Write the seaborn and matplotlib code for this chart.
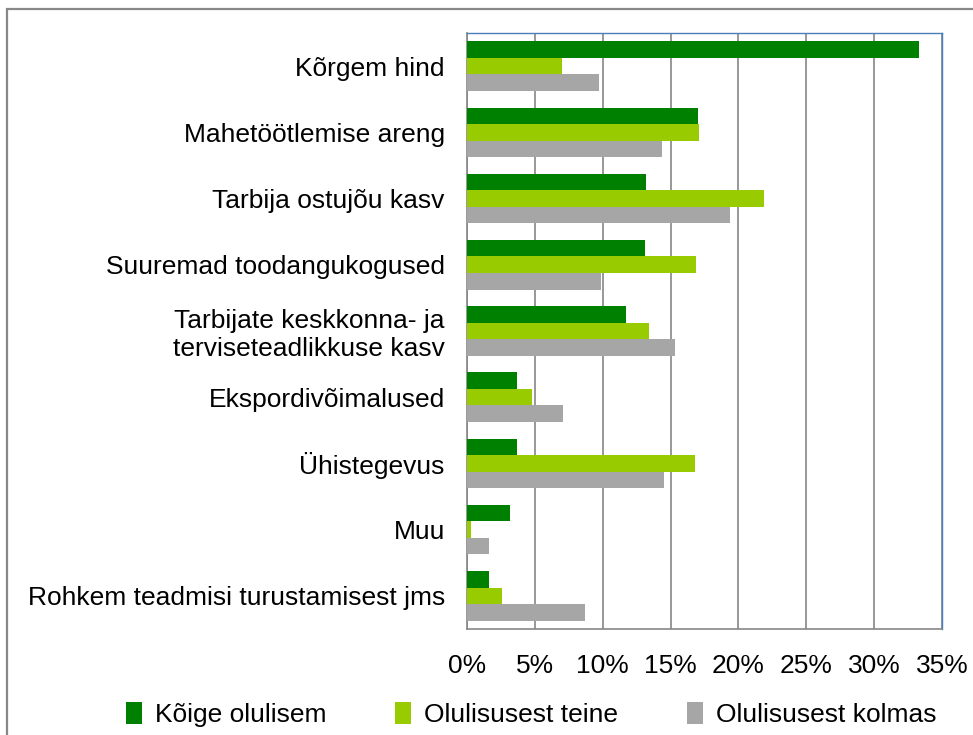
import pandas as pd
import seaborn as sns
import matplotlib.pyplot as plt
from matplotlib.patches import Rectangle
from matplotlib.ticker import FixedLocator

categories = ["Kõrgem hind", "Mahetöötlemise areng", "Tarbija ostujõu kasv",
              "Suuremad toodangukogused",
              "Tarbijate keskkonna- ja\nterviseteadlikkuse kasv",
              "Ekspordivõimalused", "Ühistegevus", "Muu",
              "Rohkem teadmisi turustamisest jms"]
series = ["Kõige olulisem", "Olulisusest teine", "Olulisusest kolmas"]
koige_olulisem = [33.3, 17.0, 13.2, 13.1, 11.7, 3.7, 3.7, 3.2, 1.6]
olulisusest_teine = [7.0, 17.1, 21.9, 16.9, 13.4, 4.8, 16.8, 0.3, 2.6]
olulisusest_kolmas = [9.7, 14.4, 19.4, 9.9, 15.3, 7.1, 14.5, 1.6, 8.7]
x_ticks = [0, 5, 10, 15, 20, 25, 30, 35]
x_labels = ["0%", "5%", "10%", "15%", "20%", "25%", "30%", "35%"]

colors = ["#008000", "#99CC00", "#A6A6A6"]

df = pd.DataFrame({
    "kategooria": categories * 3,
    "seeria": [s for s in series for _ in categories],
    "vaartus": koige_olulisem + olulisusest_teine + olulisusest_kolmas,
})

sns.set_style("white")
plt.rcParams["font.family"] = ["Liberation Sans", "DejaVu Sans"]
plt.rcParams["text.color"] = "black"
plt.rcParams["xtick.color"] = "black"
plt.rcParams["ytick.color"] = "black"

fig = plt.figure(figsize=(9.73, 7.35), dpi=100)
ax = fig.add_axes([467 / 973, 106 / 735, 475 / 973, 596 / 735])

sns.barplot(data=df, y="kategooria", x="vaartus", hue="seeria", orient="h",
            palette=colors, width=0.75, saturation=1, linewidth=0,
            edgecolor="none", ax=ax, zorder=3)

ax.set_xlim(0, 35)
ax.set_ylim(len(categories) - 0.5, -0.5)
ax.set_xticks(x_ticks)
ax.set_xticklabels(x_labels, fontsize=19)
ax.set_ylabel("")
ax.set_xlabel("")
ax.tick_params(axis="y", which="major", length=0, pad=16, labelsize=19,
               labelcolor="black")
ax.yaxis.set_minor_locator(FixedLocator([i - 0.5 for i in range(len(categories) + 1)]))
ax.tick_params(axis="y", which="minor", length=6, width=1, color="#868686", direction="out")
ax.tick_params(axis="x", length=6, width=1, color="#868686", direction="out", pad=12,
               labelcolor="black")
ax.xaxis.grid(True, color="#868686", lw=1.2, zorder=0)
ax.set_axisbelow(True)

for side in ["left", "bottom"]:
    ax.spines[side].set_color("#868686")
    ax.spines[side].set_linewidth(1.2)
for side in ["top", "right"]:
    ax.spines[side].set_color("#4A7EBB")
    ax.spines[side].set_linewidth(1.0)

ax.legend(title=None, loc="center", bbox_to_anchor=(0.546, 0.028),
          bbox_transform=fig.transFigure, ncol=3, frameon=False, fontsize=19,
          handlelength=0.6, handleheight=0.9, handletextpad=0.5,
          columnspacing=2.6, borderaxespad=0)

# gray outer frame (only top and left show in the picture)
fig.add_artist(Rectangle((7 / 973, -1), 2, 1 + (735 - 9) / 735,
                         transform=fig.transFigure, fill=False,
                         edgecolor="#888888", lw=1.6))

fig.savefig("out.png", dpi=100)
